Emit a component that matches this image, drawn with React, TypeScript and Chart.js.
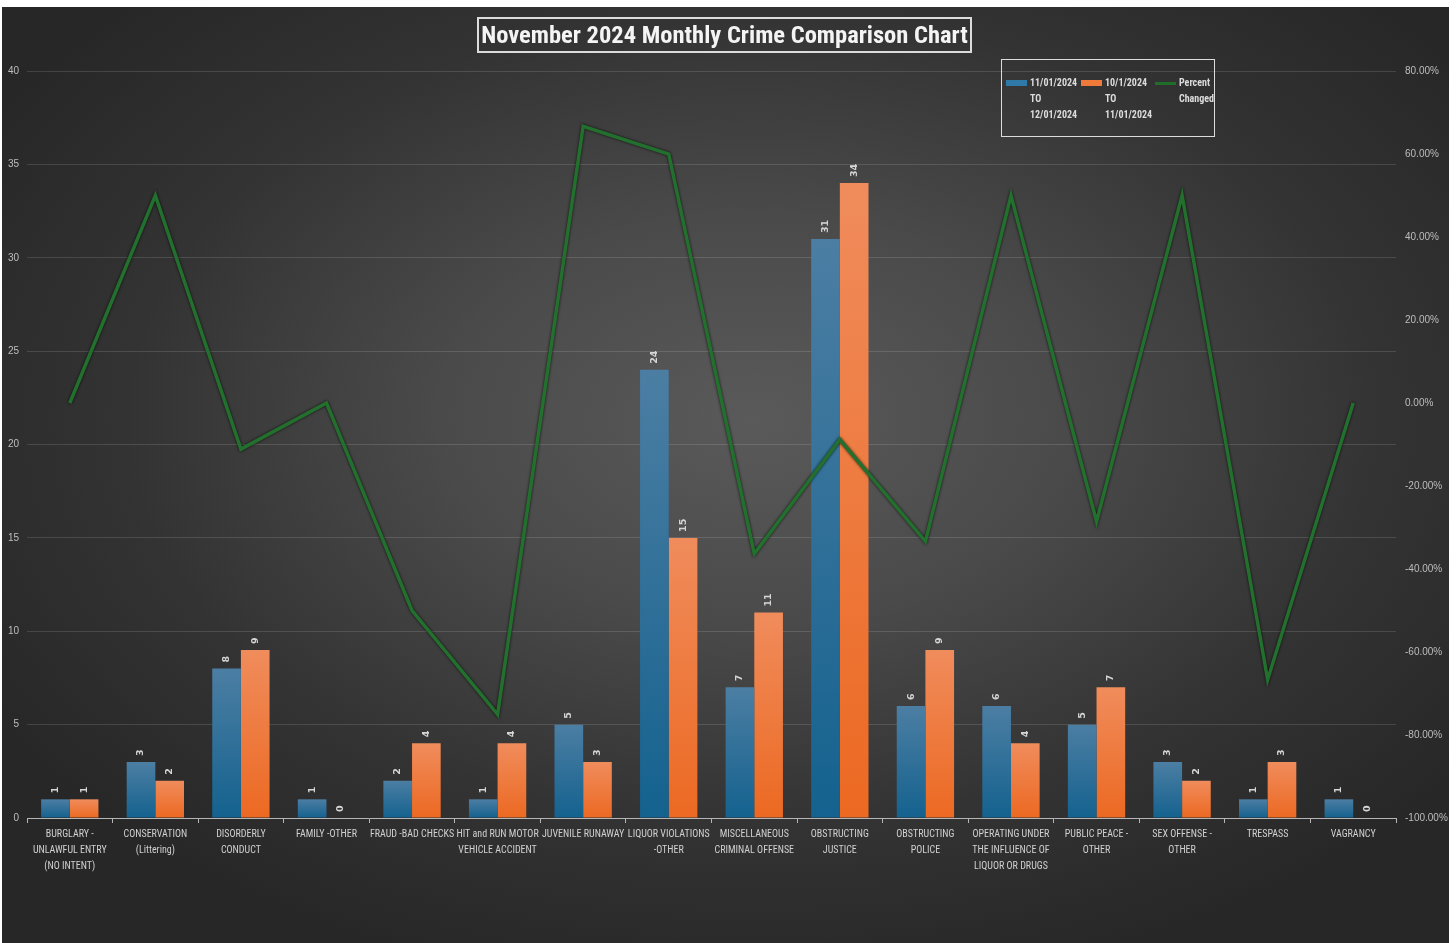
import React, { useEffect, useRef } from "react";
import { Chart, registerables } from "chart.js";

Chart.register(...registerables);

const categories: string[][] = [
  ["BURGLARY -", "UNLAWFUL ENTRY", "(NO INTENT)"],
  ["CONSERVATION", "(Littering)"],
  ["DISORDERLY", "CONDUCT"],
  ["FAMILY -OTHER"],
  ["FRAUD -BAD CHECKS"],
  ["HIT and RUN MOTOR", "VEHICLE ACCIDENT"],
  ["JUVENILE RUNAWAY"],
  ["LIQUOR VIOLATIONS", "-OTHER"],
  ["MISCELLANEOUS", "CRIMINAL OFFENSE"],
  ["OBSTRUCTING", "JUSTICE"],
  ["OBSTRUCTING", "POLICE"],
  ["OPERATING UNDER", "THE INFLUENCE OF", "LIQUOR OR DRUGS"],
  ["PUBLIC PEACE -", "OTHER"],
  ["SEX OFFENSE -", "OTHER"],
  ["TRESPASS"],
  ["VAGRANCY"],
];

const novemberCounts: number[] = [1, 3, 8, 1, 2, 1, 5, 24, 7, 31, 6, 6, 5, 3, 1, 1];
const octoberCounts: number[] = [1, 2, 9, 0, 4, 4, 3, 15, 11, 34, 9, 4, 7, 2, 3, 0];
const percentChanged: number[] = [
  0, 50, -11.11, 0, -50, -75, 66.67, 60, -36.36, -8.82, -33.33, 50, -28.57, 50, -66.67, 0,
];

const seriesLabels: string[][] = [
  ["11/01/2024", "TO", "12/01/2024"],
  ["10/1/2024", "TO", "11/01/2024"],
  ["Percent", "Changed"],
];

const titleText = "November 2024 Monthly Crime Comparison Chart";

const PANEL_W = 1447;
const PANEL_H = 936;

function fontAvailable(name: string): boolean {
  const c = document.createElement("canvas").getContext("2d");
  if (!c) return false;
  const s = "OPERATING UNDER abcdefghij 0123456789";
  c.font = "20px monospace";
  const a = c.measureText(s).width;
  c.font = `20px '${name}', monospace`;
  const b = c.measureText(s).width;
  c.font = "20px serif";
  const a2 = c.measureText(s).width;
  c.font = `20px '${name}', serif`;
  const b2 = c.measureText(s).width;
  return a !== b || a2 !== b2;
}

const HAS_RC = fontAvailable("Roboto Condensed");
const COND = HAS_RC ? "'Roboto Condensed', sans-serif" : "'DejaVu Sans', sans-serif";
const HTML_SCALE = HAS_RC ? 1 : 0.81;
const TICK_SIZE = HAS_RC ? 10 : 8.5;

function barGradient(top: string, bottom: string) {
  return (c: any) => {
    const chart = c.chart;
    if (!chart.chartArea || c.type !== "data") return bottom;
    const ys = chart.scales.y;
    const yTop = ys.getPixelForValue(c.raw);
    const yBot = ys.getPixelForValue(0);
    if (yBot - yTop < 1) return bottom;
    const g = chart.ctx.createLinearGradient(0, yTop, 0, yBot);
    g.addColorStop(0, top);
    g.addColorStop(1, bottom);
    return g;
  };
}

const barLabelPlugin = {
  id: "barLabels",
  afterDatasetsDraw(chart: any) {
    const ctx = chart.ctx;
    chart.data.datasets.forEach((ds: any, i: number) => {
      if (ds.type !== "bar") return;
      const meta = chart.getDatasetMeta(i);
      meta.data.forEach((el: any, j: number) => {
        ctx.save();
        ctx.translate(el.x, el.y - 6);
        ctx.rotate(-Math.PI / 2);
        ctx.font = "bold 9.5px 'DejaVu Sans', sans-serif";
        ctx.fillStyle = "#d6d6d6";
        ctx.textAlign = "left";
        ctx.textBaseline = "middle";
        ctx.fillText(String(ds.data[j]), 0, 0);
        ctx.restore();
      });
    });
  },
};

const lineShadowPlugin = {
  id: "lineShadow",
  beforeDatasetDraw(chart: any, args: any) {
    if (chart.data.datasets[args.index].type === "line") {
      chart.ctx.save();
      chart.ctx.shadowColor = "rgba(0,0,0,0.8)";
      chart.ctx.shadowBlur = 3;
    }
  },
  afterDatasetDraw(chart: any, args: any) {
    if (chart.data.datasets[args.index].type === "line") {
      chart.ctx.restore();
    }
  },
};

const legendColors = ["#2f79a8", "#f07a3a", "#1f6e2a"];

export default function App() {
  const canvasRef = useRef<HTMLCanvasElement | null>(null);

  useEffect(() => {
    if (!canvasRef.current) return;
    const chart = new Chart(canvasRef.current, {
      type: "bar",
      data: {
        labels: categories,
        datasets: [
          {
            type: "line",
            label: seriesLabels[2].join(" "),
            data: percentChanged,
            yAxisID: "y1",
            borderColor: "#23702e",
            borderWidth: 3.5,
            pointRadius: 0,
            tension: 0,
            order: 0,
          } as any,
          {
            type: "bar",
            label: seriesLabels[0].join(" "),
            data: novemberCounts,
            yAxisID: "y",
            backgroundColor: barGradient("#4c7ea3", "#14628f"),
            barPercentage: 1,
            categoryPercentage: 0.67,
            order: 1,
          },
          {
            type: "bar",
            label: seriesLabels[1].join(" "),
            data: octoberCounts,
            yAxisID: "y",
            backgroundColor: barGradient("#f08c5c", "#ec6922"),
            barPercentage: 1,
            categoryPercentage: 0.67,
            order: 1,
          },
        ],
      },
      options: {
        responsive: false,
        animation: false,
        layout: { padding: { top: 64, left: 0, right: 0, bottom: 0 } },
        plugins: {
          legend: { display: false },
          title: { display: false },
          tooltip: { enabled: false },
        },
        scales: {
          x: {
            offset: true,
            grid: {
              display: true,
              offset: true,
              drawOnChartArea: false,
              drawTicks: true,
              tickLength: 5,
              color: "#b5b5b5",
            },
            border: { display: true, color: "#b5b5b5", width: 1 },
            ticks: {
              color: "#d0d0d0",
              font: { family: COND, size: TICK_SIZE, lineHeight: 16 / TICK_SIZE },
              maxRotation: 0,
              minRotation: 0,
              autoSkip: false,
              padding: 3,
            },
            afterFit: (s: any) => {
              s.height = 125;
            },
          },
          y: {
            position: "left",
            min: 0,
            max: 40,
            ticks: {
              stepSize: 5,
              color: "#bdbdbd",
              font: { family: "'Liberation Sans', Arial, sans-serif", size: 10 },
              padding: 8,
            },
            grid: {
              color: "rgba(255,255,255,0.13)",
              drawTicks: false,
            },
            border: { display: false },
            afterFit: (s: any) => {
              s.width = 25;
            },
          },
          y1: {
            position: "right",
            min: -100,
            max: 80,
            ticks: {
              stepSize: 20,
              color: "#bdbdbd",
              font: { family: "'Liberation Sans', Arial, sans-serif", size: 10 },
              padding: 9,
              callback: (v: any) => Number(v).toFixed(2) + "%",
            },
            grid: { display: false, drawTicks: false },
            border: { display: false },
            afterFit: (s: any) => {
              s.width = 53;
            },
          },
        },
      },
      plugins: [lineShadowPlugin, barLabelPlugin],
    });
    return () => chart.destroy();
  }, []);

  return (
    <div
      style={{
        position: "fixed",
        left: 0,
        top: 0,
        width: 1456,
        height: 943,
        background: "#ffffff",
        overflow: "hidden",
      }}
    >
      <div
        style={{
          position: "absolute",
          left: 2,
          top: 7,
          width: PANEL_W,
          height: PANEL_H,
          background:
            "radial-gradient(ellipse 62% 62% at 52% 44%, #5a5a5a 0%, #4a4a4a 35%, #333333 70%, #272727 100%)",
        }}
      >
        <canvas
          ref={canvasRef}
          width={PANEL_W}
          height={PANEL_H}
          style={{ position: "absolute", left: 0, top: 0, width: PANEL_W, height: PANEL_H }}
        />
        <div
          style={{
            position: "absolute",
            left: 475,
            top: 10,
            width: 491,
            height: 32,
            border: "2px solid #dcdcdc",
            color: "#f4f4f4",
            fontFamily: COND,
            fontWeight: "bold",
            fontSize: 24.5,
            lineHeight: "32px",
            textAlign: "center",
            whiteSpace: "nowrap",
            display: "flex",
            justifyContent: "center",
          }}
        >
          <span style={{ display: "inline-block", transform: `scaleX(${HTML_SCALE})`, transformOrigin: "center" }}>
            {titleText}
          </span>
        </div>
        <div
          style={{
            position: "absolute",
            left: 999,
            top: 52,
            width: 212,
            height: 76,
            border: "1.5px solid #dcdcdc",
            fontFamily: COND,
            fontWeight: "bold",
            fontSize: 10,
            lineHeight: "16px",
            color: "#dcdcdc",
          }}
        >
          {seriesLabels.map((lines, i) => (
            <div
              key={i}
              style={{
                position: "absolute",
                left: [4, 79, 153][i],
                top: 15,
                display: "flex",
                alignItems: "flex-start",
              }}
            >
              <div
                style={{
                  width: 21,
                  height: i === 2 ? 3 : 6,
                  marginTop: i === 2 ? 6.5 : 5,
                  background: legendColors[i],
                  marginRight: 3,
                  flexShrink: 0,
                }}
              />
              <div style={{ transform: `scaleX(${HTML_SCALE})`, transformOrigin: "left", whiteSpace: "nowrap" }}>
                {lines.map((l, k) => (
                  <div key={k}>{l}</div>
                ))}
              </div>
            </div>
          ))}
        </div>
      </div>
    </div>
  );
}
